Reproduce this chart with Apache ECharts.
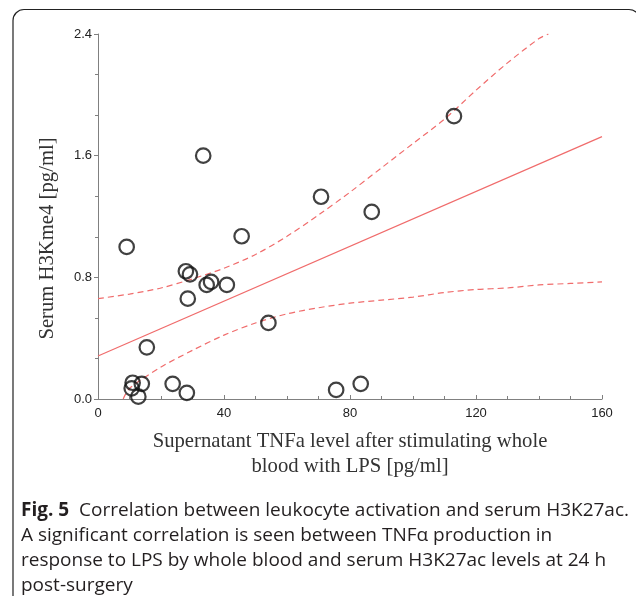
<!DOCTYPE html>
<html>
<head>
<meta charset="utf-8">
<script src="https://cdn.jsdelivr.net/npm/echarts@6/dist/echarts.min.js"></script>
<style>
  html, body { margin: 0; padding: 0; background: #fff; }
  #chart { width: 636px; height: 596px; }
</style>
</head>
<body>
<div id="chart"></div>
<script>
// tick labels
var xTicks = [0, 40, 80, 120, 160];
var yTicks = [0.0, 0.8, 1.6, 2.4];

// scatter data: TNFa (x) vs serum H3Kme4 (y)
var tnfValues = [9.1, 45.6, 27.9, 29.2, 34.5, 35.9, 40.9, 28.5, 54.1, 15.5, 11.0, 13.9, 10.7, 12.8, 23.7, 28.2, 75.6, 83.4, 86.9, 70.8, 113.0, 33.4];
var h3Values  = [1.00, 1.07, 0.84, 0.82, 0.75, 0.77, 0.75, 0.66, 0.50, 0.34, 0.107, 0.10, 0.07, 0.015, 0.10, 0.04, 0.06, 0.10, 1.23, 1.33, 1.86, 1.60];

// regression line
var fitX = [0, 160];
var fitY = [0.283, 1.725];

// confidence band (dashed)
var upperX = [0, 10, 20, 30, 40, 50, 60, 70, 80, 90, 100, 110, 120, 130, 140, 143];
var upperY = [0.66, 0.69, 0.73, 0.79, 0.86, 0.95, 1.07, 1.21, 1.36, 1.52, 1.68, 1.84, 2.03, 2.21, 2.37, 2.40];
var lowerX = [8, 10, 20, 30, 40, 50, 60, 70, 80, 90, 100, 110, 120, 130, 140, 150, 160];
var lowerY = [0.0, 0.07, 0.21, 0.32, 0.42, 0.50, 0.56, 0.60, 0.63, 0.65, 0.67, 0.70, 0.72, 0.73, 0.75, 0.76, 0.77];

function zip(a, b) {
    var out = [];
    for (var i = 0; i < a.length; i++) out.push([a[i], b[i]]);
    return out;
}

var myChart = echarts.init(document.getElementById('chart'));
var red = '#f06c6c';
var axisGray = '#808080';

var option = {
    animation: false,
    backgroundColor: '#fff',
    grid: {
        left: 98,
        right: 34,
        top: 34,
        bottom: 197
    },
    xAxis: {
        type: 'value',
        min: xTicks[0],
        max: xTicks[xTicks.length - 1],
        interval: xTicks[1] - xTicks[0],
        name: 'Supernatant TNFa level after stimulating whole\nblood with LPS [pg/ml]',
        nameLocation: 'middle',
        nameGap: 30,
        nameTextStyle: {
            fontFamily: 'Liberation Serif',
            fontSize: 20.7,
            color: '#333',
            lineHeight: 25
        },
        axisLine: { lineStyle: { color: axisGray, width: 1 } },
        axisTick: { inside: true, length: 4, lineStyle: { color: axisGray } },
        minorTick: { show: true, splitNumber: 4, length: 3, lineStyle: { color: axisGray } },
        splitLine: { show: false },
        axisLabel: {
            margin: 8,
            fontFamily: 'Liberation Sans',
            fontSize: 13,
            color: '#222'
        }
    },
    yAxis: {
        type: 'value',
        min: yTicks[0],
        max: yTicks[yTicks.length - 1],
        interval: yTicks[1] - yTicks[0],
        name: 'Serum H3Kme4 [pg/ml]',
        nameLocation: 'middle',
        nameRotate: 90,
        nameGap: 40,
        nameTextStyle: {
            fontFamily: 'Liberation Serif',
            fontSize: 20.7,
            color: '#333',
            padding: [0, 44, 0, 0]
        },
        axisLine: { show: true, lineStyle: { color: axisGray, width: 1 } },
        axisTick: { show: true, length: 4, lineStyle: { color: axisGray } },
        minorTick: { show: true, splitNumber: 3, length: 3, lineStyle: { color: axisGray } },
        splitLine: { show: false },
        axisLabel: {
            margin: 6,
            fontFamily: 'Liberation Sans',
            fontSize: 13,
            color: '#222',
            formatter: function (v) { return v.toFixed(1); }
        }
    },
    graphic: [
        {
            type: 'rect',
            silent: true,
            shape: { x: 13, y: 9.5, width: 627, height: 700, r: 11 },
            style: { fill: 'none', stroke: '#222', lineWidth: 1.2 }
        },
        {
            type: 'text',
            silent: true,
            left: 21,
            top: 498,
            style: {
                text: '{b|Fig. 5}  Correlation between leukocyte activation and serum H3K27ac.\n' +
                      'A significant correlation is seen between TNFα production in\n' +
                      'response to LPS by whole blood and serum H3K27ac levels at 24 h\n' +
                      'post-surgery',
                fontFamily: 'Open Sans',
                fontSize: 19,
                lineHeight: 25,
                fill: '#231f20',
                rich: {
                    b: { fontFamily: 'Open Sans', fontSize: 19, fontWeight: 'bold', lineHeight: 25, color: '#231f20' }
                }
            }
        }
    ],
    series: [
        {
            name: 'fit',
            type: 'line',
            data: zip(fitX, fitY),
            showSymbol: false,
            lineStyle: { color: red, width: 1.2 },
            z: 2
        },
        {
            name: 'upper',
            type: 'line',
            data: zip(upperX, upperY),
            showSymbol: false,
            smooth: 0.3,
            lineStyle: { color: red, width: 1.2, type: [6, 4] },
            z: 2
        },
        {
            name: 'lower',
            type: 'line',
            data: zip(lowerX, lowerY),
            showSymbol: false,
            smooth: 0.3,
            lineStyle: { color: red, width: 1.2, type: [6, 4] },
            z: 2
        },
        {
            name: 'samples',
            type: 'scatter',
            data: zip(tnfValues, h3Values),
            symbol: 'circle',
            symbolSize: 14.5,
            itemStyle: { color: 'rgba(0,0,0,0)', borderColor: '#111', borderWidth: 2.2 },
            z: 3
        }
    ]
};
myChart.setOption(option);
</script>
</body>
</html>
